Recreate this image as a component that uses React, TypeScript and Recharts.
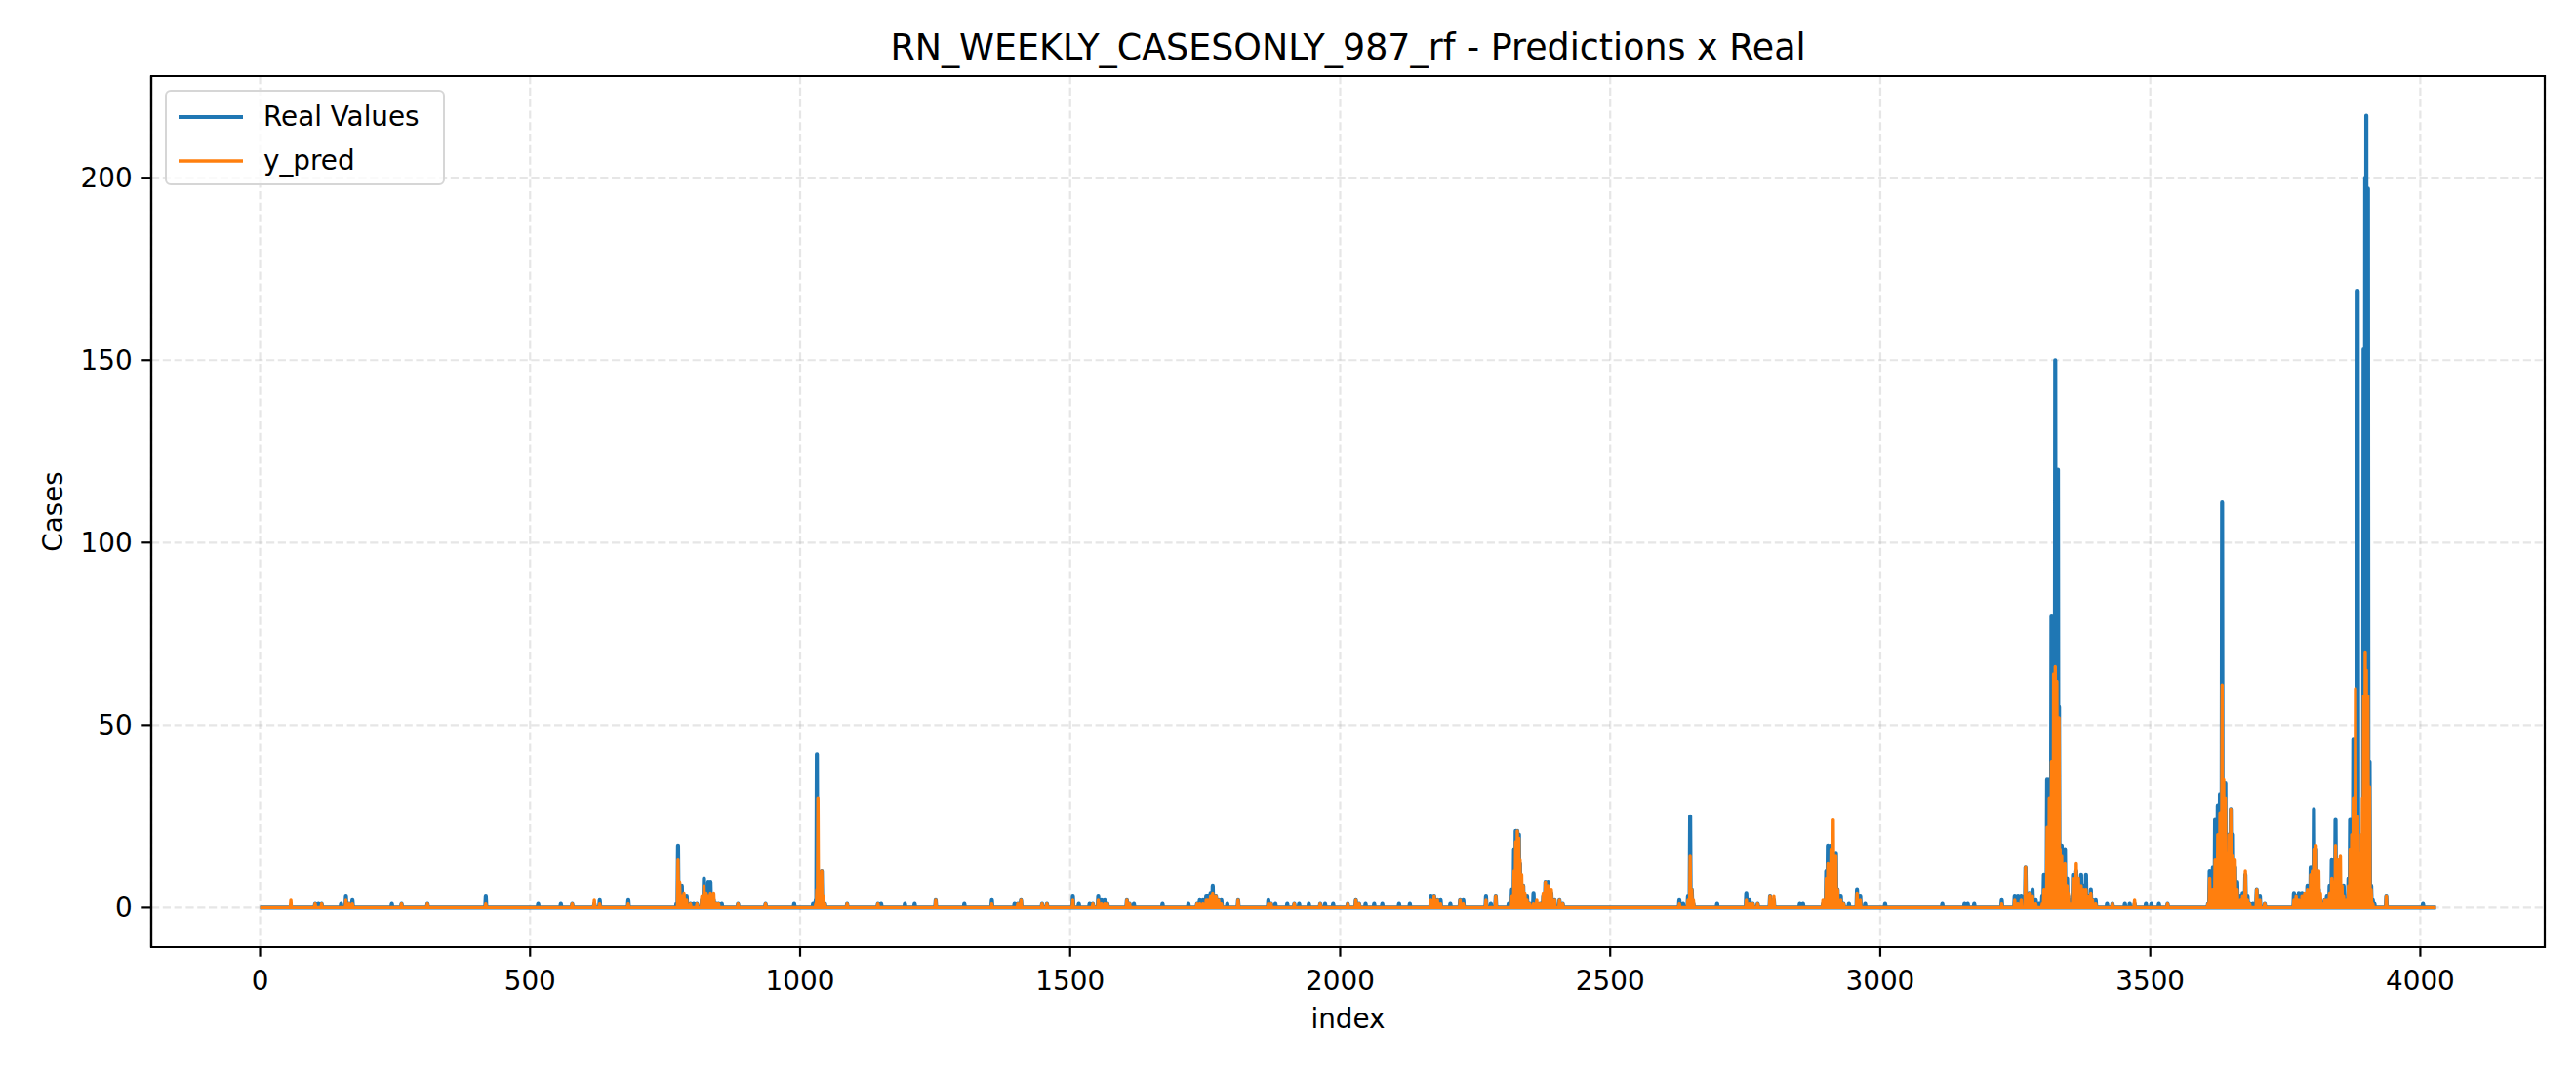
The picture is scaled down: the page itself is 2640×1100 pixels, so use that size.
import {
    LineChart,
    Line,
    XAxis,
    YAxis,
    CartesianGrid,
    Legend,
    Label,
    ReferenceArea,
} from "recharts";

const TITLE = "RN_WEEKLY_CASESONLY_987_rf - Predictions x Real";
const X_LABEL = "index";
const Y_LABEL = "Cases";
const SERIES_NAMES = ["Real Values", "y_pred"];

const N_POINTS = 4030;
const X_TICKS = [0, 500, 1000, 1500, 2000, 2500, 3000, 3500, 4000];
const Y_TICKS = [0, 50, 100, 150, 200];

// non-zero observations only; every other index is 0 in both series
const eventIdx = [
    57, 102, 108, 114, 150, 159, 165, 171, 244, 262, 310, 418, 515, 557, 578, 619, 629, 682,
    771, 774, 777, 781, 785, 790, 797, 803, 809, 818, 822, 826, 830, 834, 840, 845, 849, 855,
    885, 936, 989, 1024, 1029, 1031, 1033, 1036, 1040, 1043, 1046, 1087, 1144, 1150, 1194, 1212,
    1251, 1304, 1355, 1397, 1403, 1409, 1448, 1457, 1505, 1516, 1536, 1542, 1552, 1558, 1564, 1569,
    1605, 1610, 1618, 1671, 1719, 1735, 1740, 1746, 1752, 1755, 1760, 1764, 1770, 1775, 1780, 1791,
    1811, 1867, 1872, 1880, 1902, 1915, 1924, 1942, 1963, 1972, 1987, 2014, 2029, 2035, 2047, 2063,
    2078, 2109, 2129, 2168, 2174, 2180, 2186, 2204, 2222, 2228, 2270, 2279, 2288, 2312, 2318, 2322,
    2325, 2328, 2331, 2333, 2336, 2339, 2342, 2346, 2351, 2358, 2364, 2370, 2376, 2380, 2385, 2391,
    2397, 2406, 2412, 2628, 2635, 2644, 2648, 2651, 2654, 2698, 2752, 2758, 2764, 2773, 2796, 2803,
    2851, 2857, 2894, 2900, 2903, 2909, 2913, 2918, 2921, 2927, 2932, 2942, 2957, 2963, 2972, 3009,
    3115, 3156, 3162, 3174, 3225, 3249, 3255, 3261, 3269, 3276, 3282, 3288, 3294, 3300, 3303, 3306,
    3309, 3313, 3317, 3321, 3324, 3327, 3329, 3331, 3333, 3336, 3339, 3342, 3346, 3348, 3354, 3357,
    3363, 3367, 3372, 3377, 3381, 3387, 3390, 3393, 3399, 3420, 3430, 3453, 3462, 3471, 3492, 3502,
    3516, 3532, 3607, 3610, 3613, 3616, 3620, 3625, 3629, 3633, 3636, 3639, 3643, 3646, 3649, 3653,
    3657, 3661, 3667, 3671, 3676, 3680, 3684, 3690, 3697, 3703, 3712, 3766, 3770, 3775, 3781, 3786,
    3791, 3797, 3800, 3803, 3807, 3812, 3815, 3818, 3823, 3827, 3832, 3836, 3839, 3843, 3848, 3852,
    3855, 3858, 3863, 3867, 3870, 3873, 3876, 3880, 3884, 3886, 3888, 3891, 3893, 3895, 3898, 3900,
    3903, 3906, 3909, 3912, 3915, 3937, 4005,
];

const realVals = [
    0, 1, 1, 1, 1, 3, 1, 2, 1, 1, 1, 3, 1, 1, 1, 1, 2, 2,
    1, 17, 2, 6, 2, 3, 1, 1, 1, 2, 8, 1, 7, 7, 2, 1, 1, 1,
    1, 1, 1, 1, 2, 42, 10, 1, 10, 2, 1, 1, 1, 1, 1, 1,
    2, 1, 2, 1, 1, 2, 1, 1, 3, 1, 1, 1, 3, 2, 2, 1,
    2, 1, 1, 1, 1, 1, 2, 2, 3, 3, 4, 6, 3, 2, 2, 1,
    2, 2, 1, 1, 1, 1, 1, 1, 1, 1, 1, 1, 2, 1, 1, 1,
    1, 1, 1, 3, 3, 2, 2, 1, 2, 2, 3, 1, 3, 1, 5, 16,
    21, 21, 20, 12, 5, 6, 2, 3, 1, 4, 1, 1, 3, 7, 7, 4,
    2, 2, 1, 2, 1, 3, 25, 5, 1, 1, 4, 2, 1, 1, 3, 2,
    1, 1, 1, 10, 17, 17, 14, 15, 5, 3, 1, 1, 5, 3, 1, 1,
    1, 1, 1, 1, 2, 3, 3, 3, 11, 4, 5, 2, 1, 3, 9, 8,
    35, 35, 80, 80, 150, 120, 120, 55, 14, 17, 9, 16, 8, 3, 2, 9,
    10, 5, 9, 6, 9, 3, 5, 2, 2, 1, 1, 1, 1, 1, 1, 1,
    1, 1, 1, 10, 5, 11, 24, 28, 31, 111, 20, 34, 20, 10, 27, 20,
    11, 7, 3, 4, 9, 3, 1, 1, 5, 3, 1, 4, 3, 4, 4, 3,
    6, 11, 8, 27, 16, 5, 2, 1, 2, 3, 6, 13, 5, 24, 10, 5,
    3, 6, 2, 8, 24, 20, 46, 5, 169, 10, 4, 3, 20, 153, 200, 217,
    197, 40, 6, 2, 1, 3, 1,
];

const predVals = [
    2, 1, 0, 1, 0, 2, 1, 1, 0, 1, 1, 1, 0, 0, 1, 2, 1, 1,
    0, 13, 7, 3, 4, 2, 1, 0, 1, 3, 6, 4, 3, 4, 4, 1, 1, 0,
    1, 1, 0, 0, 1, 5, 30, 2, 10, 3, 1, 1, 1, 0, 0, 0,
    2, 0, 1, 0, 1, 2, 1, 1, 2, 0, 0, 1, 2, 1, 1, 1,
    2, 1, 0, 0, 0, 1, 1, 1, 2, 2, 3, 4, 3, 2, 1, 0,
    2, 1, 1, 0, 0, 1, 0, 0, 1, 0, 0, 1, 2, 1, 0, 0,
    0, 0, 0, 2, 3, 2, 1, 0, 2, 1, 2, 0, 3, 0, 3, 10,
    18, 21, 19, 13, 9, 6, 4, 2, 1, 1, 2, 1, 4, 7, 6, 5,
    2, 2, 1, 1, 0, 2, 14, 5, 2, 0, 2, 1, 1, 1, 3, 3,
    0, 0, 2, 8, 12, 16, 24, 14, 5, 2, 1, 0, 4, 2, 0, 0,
    0, 0, 0, 0, 1, 2, 1, 2, 11, 4, 3, 1, 0, 1, 5, 5,
    22, 30, 40, 64, 66, 62, 50, 52, 16, 14, 8, 12, 6, 4, 1, 8,
    12, 8, 6, 5, 5, 3, 4, 2, 1, 0, 1, 0, 0, 2, 0, 0,
    0, 1, 1, 8, 5, 5, 13, 20, 26, 61, 35, 30, 15, 20, 27, 14,
    13, 5, 2, 3, 10, 2, 1, 0, 5, 2, 1, 2, 3, 2, 3, 4,
    5, 9, 10, 16, 17, 10, 4, 1, 2, 2, 4, 8, 7, 17, 13, 14,
    6, 3, 2, 6, 16, 20, 30, 60, 25, 8, 15, 20, 30, 58, 70, 65,
    58, 33, 5, 1, 0, 3, 0,
];

const data = Array.from({ length: N_POINTS }, (_, i) => ({ index: i, real: 0, pred: 0 }));
eventIdx.forEach((ix, k) => {
    data[ix].real = realVals[k];
    data[ix].pred = predVals[k];
});

const X_DOMAIN = [-201.5, 4230.5];
const Y_DOMAIN = [-10.85, 227.85];

const FONT = "'DejaVu Sans', sans-serif";
const FS = 27.8;
const SPINE = { stroke: "#000", strokeWidth: 2.2 };

const LegendBox = ({ payload }: any) => (
    <div
        style={{
            width: 287,
            height: 98,
            boxSizing: "border-box",
            border: "2.6px solid #d6d6d6",
            borderRadius: 6,
            background: "rgba(255,255,255,0.8)",
            padding: "10px 0 0 10px",
            fontFamily: FONT,
            fontSize: FS,
            color: "#000",
        }}
    >
        {(payload || []).map((p: any) => (
            <div
                key={p.value}
                style={{ display: "flex", alignItems: "center", height: 31, marginBottom: 14 }}
            >
                <svg width={70} height={10} style={{ marginRight: 19 }}>
                    <line
                        x1={2}
                        x2={68}
                        y1={5}
                        y2={5}
                        stroke={p.color}
                        strokeWidth={p.value === SERIES_NAMES[0] ? 4.2 : 3.4}
                    />
                </svg>
                <span style={{ lineHeight: "31px" }}>{p.value}</span>
            </div>
        ))}
    </div>
);

const YLabel = (props: any) => {
    const vb = props.viewBox;
    const cy = vb && vb.height ? vb.y + vb.height / 2 : 524.5;
    return (
        <text
            x={64}
            y={cy}
            transform={`rotate(-90, 64, ${cy})`}
            textAnchor="middle"
            style={{ fontFamily: FONT, fontSize: FS, fill: "#000" }}
        >
            {Y_LABEL}
        </text>
    );
};

const App = () => {
    return (
        <div
            style={{
                position: "absolute",
                left: 0,
                top: 0,
                width: 2640,
                height: 1100,
                background: "#fff",
                fontFamily: FONT,
            }}
        >
            <LineChart
                width={2640}
                height={1100}
                data={data}
                margin={{ top: 78, right: 32, bottom: 0, left: 0 }}
            >
                <CartesianGrid
                    stroke="#b0b0b0"
                    strokeOpacity={0.32}
                    strokeWidth={2.2}
                    strokeDasharray="8.2 3.6"
                />
                <XAxis
                    dataKey="index"
                    type="number"
                    domain={X_DOMAIN}
                    ticks={X_TICKS}
                    allowDataOverflow
                    height={129}
                    tickSize={9.7}
                    tickMargin={15}
                    axisLine={SPINE}
                    tickLine={SPINE}
                    tick={{ fill: "#000", fontSize: FS, fontFamily: FONT }}
                >
                    <Label
                        value={X_LABEL}
                        position="insideBottom"
                        offset={46}
                        style={{ fontFamily: FONT, fontSize: FS, fill: "#000" }}
                    />
                </XAxis>
                <YAxis
                    type="number"
                    domain={Y_DOMAIN}
                    ticks={Y_TICKS}
                    allowDataOverflow
                    width={155}
                    tickSize={9.7}
                    tickMargin={9.7}
                    axisLine={SPINE}
                    tickLine={SPINE}
                    tick={{ fill: "#000", fontSize: FS, fontFamily: FONT }}
                    label={<YLabel />}
                />
                <Legend
                    layout="vertical"
                    align="center"
                    verticalAlign="middle"
                    content={<LegendBox />}
                    wrapperStyle={{ left: 169, top: 92, width: 287, height: 98 }}
                />
                <Line
                    name={SERIES_NAMES[0]}
                    dataKey="real"
                    type="linear"
                    stroke="#1f77b4"
                    strokeWidth={4.2}
                    strokeLinejoin="round"
                    dot={false}
                    activeDot={false}
                    isAnimationActive={false}
                />
                <Line
                    name={SERIES_NAMES[1]}
                    dataKey="pred"
                    type="linear"
                    stroke="#ff7f0e"
                    strokeWidth={3.4}
                    strokeLinejoin="round"
                    dot={false}
                    activeDot={false}
                    isAnimationActive={false}
                />
                <ReferenceArea
                    x1={X_DOMAIN[0]}
                    x2={X_DOMAIN[1]}
                    y1={Y_DOMAIN[0]}
                    y2={Y_DOMAIN[1]}
                    ifOverflow="visible"
                    fill="none"
                    fillOpacity={0}
                    stroke="#000"
                    strokeWidth={2.2}
                    strokeOpacity={1}
                >
                    <Label
                        value={TITLE}
                        position="top"
                        offset={16.7}
                        style={{ fontFamily: FONT, fontSize: 36.4, fill: "#000" }}
                    />
                </ReferenceArea>
            </LineChart>
        </div>
    );
};

export default App;
